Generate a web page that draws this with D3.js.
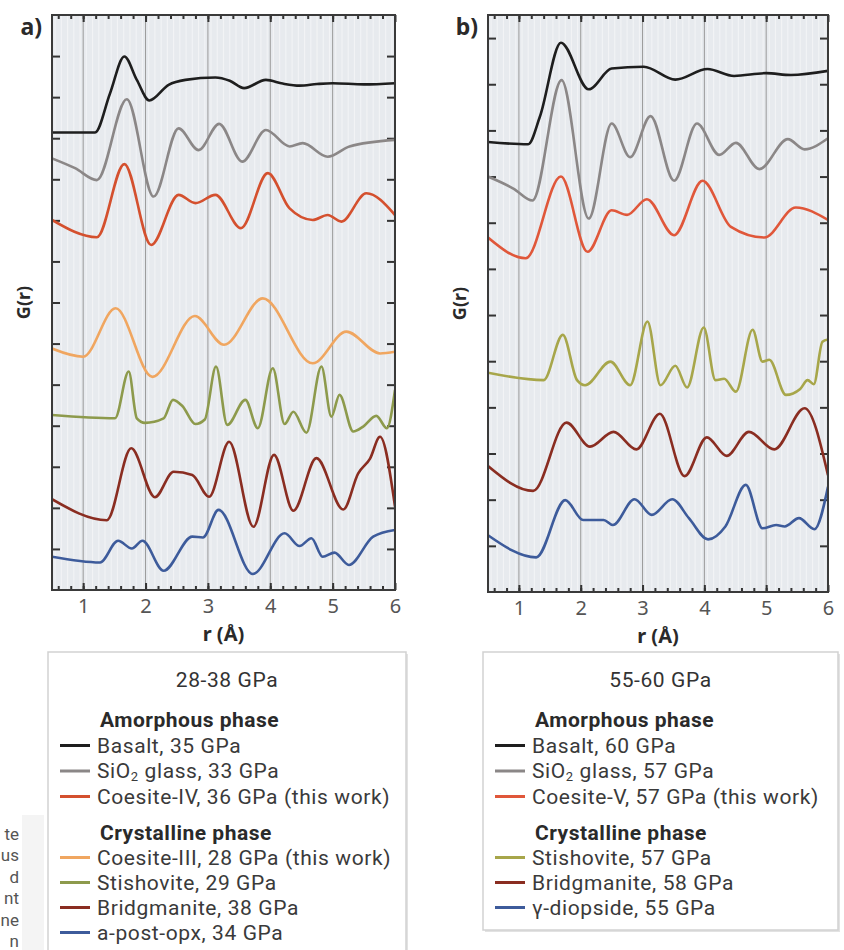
<!DOCTYPE html>
<html>
<head>
<meta charset="utf-8">
<script src="https://cdn.jsdelivr.net/npm/d3@7"></script>
<style>
  body { margin: 0; background: #fff; }
  svg { font-family: "Noto Sans", "DejaVu Sans", sans-serif; }
</style>
</head>
<body>
<div id="chart"></div>
<script>
// values: [r (Å), G(r) in tick units]
var basalt_a = [[0.5,11.14],[1.19,11.14],[1.43,12.09],[1.66,12.99],[1.86,12.42],[2.06,11.92],[2.37,12.30],[2.64,12.42],[3.12,12.48],[3.35,12.40],[3.58,12.22],[3.93,12.42],[4.2,12.33],[4.47,12.28],[4.75,12.32],[5.0,12.34],[5.5,12.31],[6.0,12.34]];
var sio2_a = [[0.5,10.51],[0.87,10.27],[1.22,9.98],[1.70,11.95],[2.13,9.58],[2.53,11.24],[2.85,10.71],[3.18,11.35],[3.55,10.43],[3.93,11.20],[4.31,10.80],[4.52,10.88],[4.92,10.55],[5.27,10.80],[6.0,10.96]];
var coesiteIV = [[0.5,9.01],[1.22,8.59],[1.66,10.37],[2.09,8.40],[2.53,9.62],[2.80,9.42],[3.12,9.62],[3.53,8.81],[3.96,10.15],[4.31,9.29],[4.68,9.01],[4.92,9.13],[5.14,8.97],[5.54,9.66],[6.0,9.13]];
var coesiteIII = [[0.5,5.88],[1.0,5.68],[1.52,6.86],[2.11,5.19],[2.79,6.67],[3.26,5.97],[3.88,7.10],[4.68,5.52],[5.22,6.29],[5.76,5.76],[6.0,5.80]];
var stish_a = [[0.5,4.26],[1.51,4.18],[1.73,5.32],[1.86,4.18],[1.99,4.07],[2.29,4.18],[2.44,4.63],[2.59,4.48],[2.80,4.04],[2.95,4.15],[3.13,5.44],[3.31,4.02],[3.60,4.63],[3.80,3.94],[4.04,5.40],[4.23,4.04],[4.37,4.34],[4.58,3.83],[4.82,5.44],[4.98,4.22],[5.11,4.75],[5.33,3.86],[5.49,3.98],[5.70,4.24],[5.87,3.94],[6.0,4.87]];
var bridg_a = [[0.5,2.21],[1.38,1.70],[1.77,3.45],[2.15,2.26],[2.45,2.88],[2.75,2.80],[3.02,2.27],[3.34,3.61],[3.73,1.54],[4.06,3.29],[4.37,1.93],[4.74,3.21],[5.17,1.96],[5.41,2.84],[5.60,3.20],[5.76,3.73],[6.0,2.03]];
var postopx = [[0.5,0.81],[1.27,0.67],[1.56,1.20],[1.78,1.01],[1.95,1.20],[2.29,0.47],[2.75,1.30],[2.92,1.28],[3.17,1.95],[3.72,0.39],[4.23,1.38],[4.47,1.07],[4.66,1.26],[4.84,0.81],[5.03,0.91],[5.26,0.61],[5.65,1.30],[6.0,1.46]];

var basalt_b = [[0.5,9.75],[1.15,9.70],[1.34,10.30],[1.68,11.90],[2.13,10.89],[2.50,11.34],[3.02,11.38],[3.53,11.10],[4.05,11.33],[4.48,11.18],[5.0,11.24],[5.40,11.20],[6.0,11.29]];
var sio2_b = [[0.5,9.0],[0.91,8.74],[1.22,8.48],[1.69,11.09],[2.13,8.09],[2.50,10.15],[2.80,9.42],[3.13,10.31],[3.51,8.91],[3.88,10.15],[4.24,9.47],[4.51,9.73],[4.89,9.16],[5.35,9.81],[5.62,9.59],[6.0,9.83]];
var coesiteV = [[0.5,7.68],[1.11,7.23],[1.68,9.0],[2.11,7.37],[2.50,8.27],[2.75,8.17],[3.07,8.51],[3.51,7.73],[3.97,8.91],[4.43,7.91],[4.97,7.68],[5.48,8.33],[6.0,8.06]];
var stish_b = [[0.5,4.75],[1.40,4.59],[1.71,5.57],[1.94,4.59],[2.07,4.48],[2.48,4.99],[2.80,4.48],[3.08,5.86],[3.29,4.48],[3.53,4.90],[3.72,4.43],[3.99,5.73],[4.18,4.59],[4.32,4.62],[4.51,4.34],[4.78,5.68],[4.94,4.99],[5.05,5.03],[5.32,4.27],[5.55,4.40],[5.67,4.59],[5.77,4.50],[5.91,5.42],[6.0,5.47]];
var bridg_b = [[0.5,2.73],[1.23,2.19],[1.77,3.67],[2.15,3.15],[2.53,3.47],[2.90,3.09],[3.28,3.86],[3.68,2.51],[4.04,3.35],[4.36,2.95],[4.72,3.47],[5.13,3.09],[5.62,3.98],[6.0,2.53]];
var diopside = [[0.5,1.23],[1.28,0.75],[1.75,1.99],[2.04,1.56],[2.37,1.56],[2.52,1.45],[2.87,2.01],[3.15,1.67],[3.48,2.01],[3.75,1.60],[4.06,1.14],[4.34,1.42],[4.67,2.32],[4.94,1.38],[5.16,1.45],[5.30,1.42],[5.53,1.60],[5.78,1.36],[6.0,2.28]];

var xTicks = [1, 2, 3, 4, 5, 6];
var pressureA = "28-38 GPa";
var pressureB = "55-60 GPa";

var seriesA = [
  {name: "Basalt, 35 GPa", group: "am", color: "#1e1e1e", data: basalt_a},
  {name: "SiO|2| glass, 33 GPa", group: "am", color: "#8b8787", data: sio2_a},
  {name: "Coesite-IV, 36 GPa (this work)", group: "am", color: "#d4502e", data: coesiteIV},
  {name: "Coesite-III, 28 GPa (this work)", group: "cr", color: "#f0a660", data: coesiteIII},
  {name: "Stishovite, 29 GPa", group: "cr", color: "#8d9a4c", data: stish_a},
  {name: "Bridgmanite, 38 GPa", group: "cr", color: "#8a2d21", data: bridg_a},
  {name: "a-post-opx, 34 GPa", group: "cr", color: "#3d5b9b", data: postopx}
];
var seriesB = [
  {name: "Basalt, 60 GPa", group: "am", color: "#1e1e1e", data: basalt_b},
  {name: "SiO|2| glass, 57 GPa", group: "am", color: "#8b8787", data: sio2_b},
  {name: "Coesite-V, 57 GPa (this work)", group: "am", color: "#e0573a", data: coesiteV},
  {name: "Stishovite, 57 GPa", group: "cr", color: "#a7a64a", data: stish_b},
  {name: "Bridgmanite, 58 GPa", group: "cr", color: "#8a2d21", data: bridg_b},
  {name: "\u03b3-diopside, 55 GPa", group: "cr", color: "#3d5b9b", data: diopside}
];

var width = 844, height = 950;
var svg = d3.select("#chart").append("svg")
            .attr("width", width)
            .attr("height", height);

var legendFont = "Roboto, \"Noto Sans\", sans-serif";

// tail ends of a caption cut by the left edge
var frag = ["te", "us", "d", "nt", "ne", "n"];
svg.append("rect").attr("x", 22).attr("y", 815).attr("width", 22).attr("height", 135).attr("fill", "#f4f4f4");
svg.selectAll("text.frag").data(frag).enter().append("text")
   .attr("class", "frag")
   .attr("x", 19).attr("y", function(d, i) { return 840 + i * 21.4; })
   .attr("text-anchor", "end")
   .attr("font-family", legendFont)
   .attr("font-size", 17).attr("fill", "#555")
   .text(function(d) { return d; });

function drawPanel(opts, series) {
  var g = svg.append("g");
  var x = d3.scaleLinear().domain([0.5, 6]).range([opts.left, opts.right]);
  var y = d3.scaleLinear().domain([0, opts.ymax]).range([opts.bottom, opts.top]);
  var w = opts.right - opts.left, h = opts.bottom - opts.top;

  g.append("rect").attr("x", opts.left).attr("y", opts.top)
   .attr("width", w).attr("height", h).attr("fill", "#e7eaee");

  // faint stripes
  g.selectAll("line.stripe").data(d3.range(0.55, 6, 0.1)).enter().append("line")
   .attr("x1", function(d) { return x(d); }).attr("x2", function(d) { return x(d); })
   .attr("y1", opts.top).attr("y2", opts.bottom)
   .attr("stroke", "#fbfbfc").attr("stroke-width", 1.2).attr("opacity", 0.55);

  // integer grid lines
  g.selectAll("line.grid").data(xTicks.slice(0, 5)).enter().append("line")
   .attr("x1", function(d) { return x(d); }).attr("x2", function(d) { return x(d); })
   .attr("y1", opts.top).attr("y2", opts.bottom)
   .attr("stroke", "#9a9a9a").attr("stroke-width", 1);

  // ticks: bottom/top inward, minor every 0.2
  var xb = d3.axisTop(x).tickValues(xTicks).tickSize(7).tickFormat("");
  var xbm = d3.axisTop(x).tickValues(d3.range(0.6, 6, 0.2)).tickSize(4).tickFormat("");
  var xt = d3.axisBottom(x).tickValues(xTicks).tickSize(7).tickFormat("");
  var xtm = d3.axisBottom(x).tickValues(d3.range(0.6, 6, 0.2)).tickSize(4).tickFormat("");
  [[xb, opts.bottom], [xbm, opts.bottom], [xt, opts.top], [xtm, opts.top]].forEach(function(p) {
    g.append("g").attr("transform", "translate(0," + p[1] + ")").call(p[0])
     .call(function(s) { s.select(".domain").remove(); s.selectAll("line").attr("stroke", "#333").attr("stroke-width", 2); });
  });
  var yt = d3.range(1, Math.ceil(opts.ymax));
  var yl = d3.axisRight(y).tickValues(yt).tickSize(8).tickFormat("");
  var yr = d3.axisLeft(y).tickValues(yt).tickSize(8).tickFormat("");
  [[yl, opts.left], [yr, opts.right]].forEach(function(p) {
    g.append("g").attr("transform", "translate(" + p[1] + ",0)").call(p[0])
     .call(function(s) { s.select(".domain").remove(); s.selectAll("line").attr("stroke", "#333").attr("stroke-width", 2); });
  });

  // tick labels
  g.append("g").attr("transform", "translate(0," + opts.bottom + ")")
   .call(d3.axisBottom(x).tickValues(xTicks).tickSize(0).tickPadding(9).tickFormat(d3.format("d")))
   .call(function(s) {
     s.select(".domain").remove();
     s.selectAll("text").attr("font-size", 20).attr("fill", "#555")
      .attr("font-family", "\"Noto Sans\", sans-serif");
   });

  var line = d3.line()
               .x(function(d) { return x(d[0]); })
               .y(function(d) { return y(d[1]); })
               .curve(d3.curveMonotoneX);

  g.append("defs").append("clipPath").attr("id", "clip" + opts.id)
   .append("rect").attr("x", opts.left).attr("y", opts.top).attr("width", w).attr("height", h);

  g.append("g").attr("clip-path", "url(#clip" + opts.id + ")")
   .selectAll("path").data(series).enter().append("path")
   .attr("d", function(d) { return line(d.data); })
   .attr("fill", "none")
   .attr("stroke", function(d) { return d.color; })
   .attr("stroke-width", 2.6)
   .attr("stroke-linejoin", "round");

  g.append("rect").attr("x", opts.left).attr("y", opts.top)
   .attr("width", w).attr("height", h)
   .attr("fill", "none").attr("stroke", "#3a3a3a").attr("stroke-width", 2);

  g.append("text").attr("x", opts.left - 10).attr("y", 35)
   .attr("text-anchor", "end").attr("font-size", 23).attr("font-weight", "bold")
   .attr("fill", "#2a2a2a").text(opts.label);

  g.append("text").attr("transform", "translate(" + (opts.left - 22) + "," + ((opts.top + opts.bottom) / 2) + ") rotate(-90)")
   .attr("text-anchor", "middle").attr("font-size", 18).attr("font-weight", "bold")
   .attr("fill", "#2a2a2a").text("G(r)");

  g.append("text").attr("x", (opts.left + opts.right) / 2).attr("y", opts.bottom + 51)
   .attr("text-anchor", "middle").attr("font-size", 20).attr("font-weight", "bold")
   .attr("fill", "#2a2a2a").text("r (\u00c5)");

  // legend
  var lg = g.append("g").attr("font-family", legendFont);
  lg.append("rect").attr("x", opts.lx + 2).attr("y", 654).attr("width", opts.lw).attr("height", opts.lh)
    .attr("fill", "#e2e2e2");
  lg.append("rect").attr("x", opts.lx).attr("y", 652).attr("width", opts.lw).attr("height", opts.lh)
    .attr("fill", "#fff").attr("stroke", "#d2d2d2").attr("stroke-width", 1.5);
  lg.append("text").attr("x", opts.lx + opts.lw / 2).attr("y", 687)
    .attr("text-anchor", "middle").attr("font-size", 21).attr("letter-spacing", 0.6)
    .attr("fill", "#333").text(opts.pressure);

  var tx = opts.lx + 52, sx = opts.lx + 12;
  var rows = [];
  var yy = 727;
  rows.push({head: "Amorphous phase", y: yy});
  series.filter(function(d) { return d.group === "am"; }).forEach(function(d) { yy += 25.5; rows.push({s: d, y: yy}); });
  yy += 36;
  rows.push({head: "Crystalline phase", y: yy});
  series.filter(function(d) { return d.group === "cr"; }).forEach(function(d) { yy += 25; rows.push({s: d, y: yy}); });

  rows.forEach(function(r) {
    if (r.head) {
      lg.append("text").attr("x", tx).attr("y", r.y).attr("font-size", 21).attr("font-weight", "bold")
        .attr("letter-spacing", 0.5).attr("fill", "#2a2a2a").text(r.head);
      return;
    }
    lg.append("line").attr("x1", sx).attr("x2", sx + 30).attr("y1", r.y - 7).attr("y2", r.y - 7)
      .attr("stroke", r.s.color).attr("stroke-width", 3);
    var t = lg.append("text").attr("x", tx - 3).attr("y", r.y).attr("font-size", 21)
              .attr("letter-spacing", 0.6).attr("fill", "#3a3a3a");
    var parts = r.s.name.split("|");
    t.append("tspan").text(parts[0]);
    if (parts.length > 1) {
      t.append("tspan").attr("font-size", 13).attr("dy", 3).text(parts[1]);
      t.append("tspan").attr("dy", -3).text(parts[2]);
    }
  });
}

drawPanel({id: "a", left: 52, right: 395, top: 15, bottom: 590, ymax: 14, label: "a)",
           lx: 48, lw: 358, lh: 310, pressure: pressureA}, seriesA);
drawPanel({id: "b", left: 488, right: 828, top: 15, bottom: 592, ymax: 12.5, label: "b)",
           lx: 483, lw: 355, lh: 278, pressure: pressureB}, seriesB);
</script>
</body>
</html>
